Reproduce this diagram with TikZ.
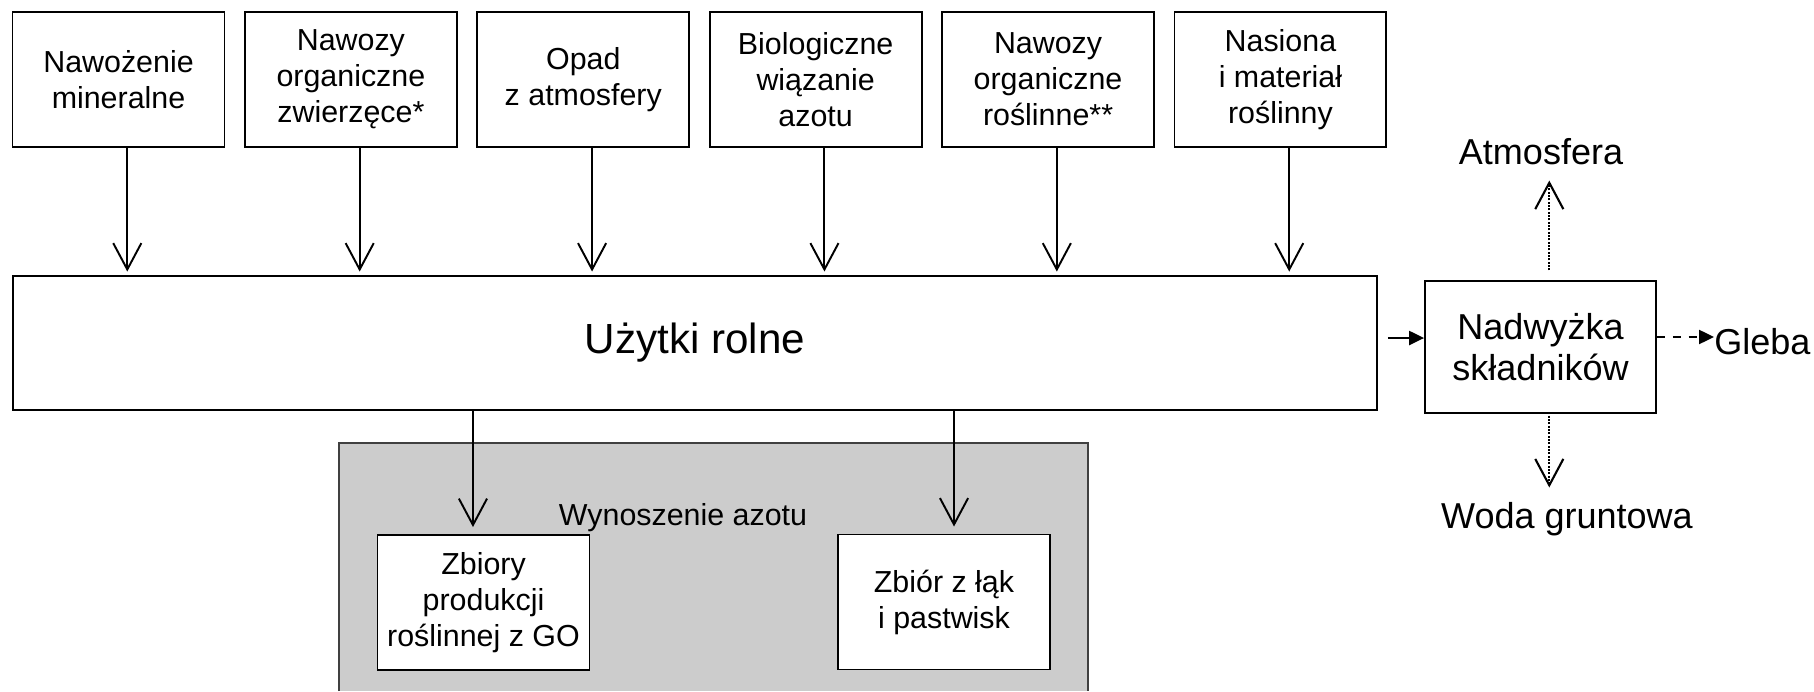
\documentclass[tikz,border=0pt]{standalone}
\usepackage{fontspec}
\setmainfont{Liberation Sans}
\usetikzlibrary{arrows.meta}
\usetikzlibrary{positioning}

\begin{document}
\begin{tikzpicture}[x=0.02cm,y=-0.02cm,
    skrz/.style={draw,line width=1.1pt,minimum width=4.24cm,minimum height=2.7cm,
        align=center,inner sep=2pt,font=\fontsize{17.3}{20.5}\selectfont},
    prawy/.style={inner sep=0pt,font=\fontsize{20.5}{23.3}\selectfont},
    wej/.style={line width=1.1pt,-{Straight Barb[length=15pt,width=16pt]}},
    pel/.style={line width=1.1pt,-{Triangle[length=8.5pt,width=8pt]}},
    kropki/.style={line width=1.2pt,dash pattern=on 1.1pt off 0.8pt,-{Straight Barb[length=15pt,width=16pt]}},
    kreski/.style={line width=1.1pt,dash pattern=on 4.5pt off 4.5pt,-{Triangle[length=8.5pt,width=8pt]}}]
    \useasboundingbox (0,0) rectangle (1814,691);
    % wynoszenie azotu (tlo)
    \fill[black!20] (339,443) rectangle (1088,691);
    \draw[line width=0.6pt,black!75] (339,691) -- (339,443) -- (1088,443) -- (1088,691);
    \node[font=\fontsize{17.3}{20.5}\selectfont,anchor=base] (wyn) at (683,525) {Wynoszenie azotu};
    % dopływy
    \node[skrz] (t1) at (118.5,79.5) {Nawożenie\\mineralne};
    \node[skrz,right=0.37cm of t1] (t2) {Nawozy\\organiczne\\zwierzęce*};
    \node[skrz,right=0.37cm of t2] (t3) {Opad\\z atmosfery};
    \node[skrz,right=0.37cm of t3] (t4) {Biologiczne\\wiązanie\\azotu};
    \node[skrz,right=0.37cm of t4] (t5) {Nawozy\\organiczne\\roślinne**};
    \node[skrz,right=0.37cm of t5] (t6) {Nasiona\\i materiał\\roślinny};
    \node[draw,line width=1.1pt,minimum width=27.28cm,minimum height=2.68cm,
        font=\fontsize{24}{28}\selectfont] (uz) at (695,343) {Użytki rolne};
    \foreach \i in {1,...,6}
        \draw[wej] ([xshift=5pt]t\i.south) -- ([xshift=5pt,yshift=2pt]t\i.south |- uz.north);
    % zbiory
    \node[skrz,fill=white] (z1) at (483.5,602.5) {Zbiory\\produkcji\\roślinnej z GO};
    \node[skrz,fill=white] (z2) at (944,602) {Zbiór z łąk\\i pastwisk};
    \draw[wej] ([xshift=-6pt]z1.north |- uz.south) -- ([xshift=-6pt,yshift=4pt]z1.north);
    \draw[wej] ([xshift=5.7pt]z2.north |- uz.south) -- ([xshift=5.7pt,yshift=4pt]z2.north);
    % nadwyzka
    \node[draw,line width=1.1pt,minimum width=4.62cm,minimum height=2.64cm,align=center,
        font=\fontsize{20.5}{23.3}\selectfont] (nad) at (1540.5,347) {Nadwyżka\\składników};
    \node[prawy,anchor=base] (atm) at (1541,164) {Atmosfera};
    \node[prawy,anchor=base] (woda) at (1567,528) {Woda gruntowa};
    \node[prawy,anchor=base west] (gleba) at (1714,354) {Gleba};
    \coordinate (p1) at ([shift={(10,-5)}]uz.east);
    \draw[pel] (p1) -- (p1 -| nad.west);
    \coordinate (p2) at ([yshift=5.7pt]nad.east);
    \draw[kreski] (p2) -- (p2 -| gleba.west);
    \draw[kropki] ([xshift=5pt,yshift=5.5pt]nad.north) -- ([xshift=5pt,yshift=-9pt]nad.north |- atm.south);
    \draw[kropki] ([xshift=5pt,yshift=-1pt]nad.south) -- ([xshift=5pt,yshift=8pt]nad.south |- woda.north);
\end{tikzpicture}
\end{document}
